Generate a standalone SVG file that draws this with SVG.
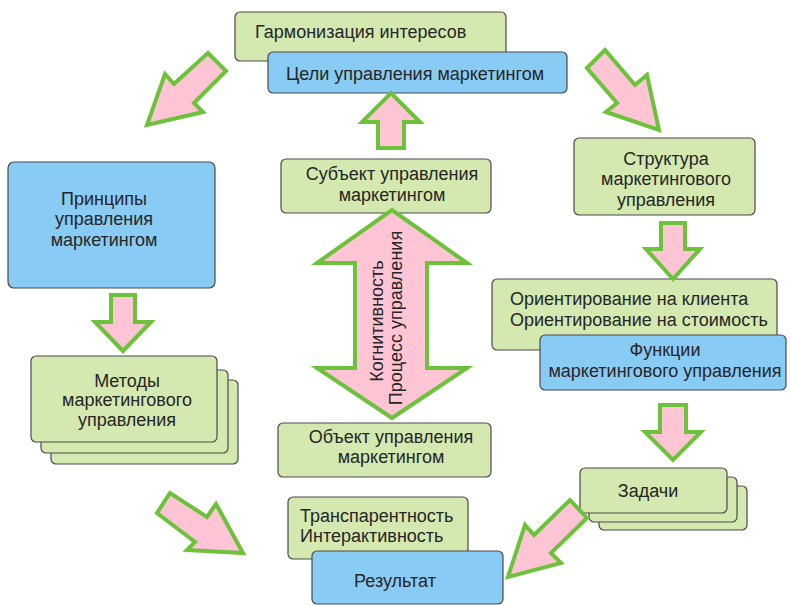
<svg xmlns="http://www.w3.org/2000/svg" width="790" height="605" viewBox="0 0 790 605">
  <style>
    .g { fill: #d3e9b0; stroke: #4a4a4a; stroke-width: 1.2; }
    .b { fill: #88cbf4; stroke: #4a4a4a; stroke-width: 1.2; }
    .arrow { fill: #ffc5d5; stroke: #6cc23a; stroke-width: 4; stroke-linejoin: miter; }
    text { font-family: "Liberation Sans", Arial, sans-serif; font-size: 18px; fill: #262626; }
    .c { text-anchor: middle; }
  </style>
  <rect width="790" height="605" fill="#ffffff"/>

  <!-- boxes -->
  <g id="harmonization">
    <rect class="g" x="235" y="12" width="271" height="49" rx="5"/>
    <text x="255" y="38">Гармонизация интересов</text>
  </g>
  <g id="goals">
    <rect class="b" x="268" y="52" width="299" height="41" rx="5"/>
    <text class="c" x="415" y="80">Цели управления маркетингом</text>
  </g>
  <g id="principles">
    <rect class="b" x="8" y="162" width="207" height="126" rx="6"/>
    <text class="c" x="104" y="205">Принципы</text>
    <text class="c" x="104" y="225">управления</text>
    <text class="c" x="104" y="246">маркетингом</text>
  </g>
  <g id="subject">
    <rect class="g" x="281" y="159" width="210" height="54" rx="5"/>
    <text class="c" x="392" y="180">Субъект управления</text>
    <text class="c" x="392" y="201">маркетингом</text>
  </g>
  <g id="structure">
    <rect class="g" x="574" y="138" width="181" height="77" rx="5"/>
    <text class="c" x="666" y="165">Структура</text>
    <text class="c" x="666" y="185">маркетингового</text>
    <text class="c" x="666" y="206">управления</text>
  </g>
  <g id="methods">
    <rect class="g" x="51" y="380" width="187" height="84" rx="5"/>
    <rect class="g" x="41" y="370" width="187" height="83" rx="5"/>
    <rect class="g" x="31" y="356" width="186" height="86" rx="5"/>
    <text class="c" x="127" y="387">Методы</text>
    <text class="c" x="127" y="406">маркетингового</text>
    <text class="c" x="127" y="426">управления</text>
  </g>
  <g id="orientation">
    <rect class="g" x="492" y="279" width="285" height="71" rx="5"/>
    <text x="510" y="305">Ориентирование на клиента</text>
    <text x="510" y="326">Ориентирование на стоимость</text>
  </g>
  <g id="functions">
    <rect class="b" x="540" y="335" width="246" height="55" rx="5"/>
    <text class="c" x="665" y="356">Функции</text>
    <text class="c" x="665" y="377">маркетингового управления</text>
  </g>
  <g id="object">
    <rect class="g" x="278" y="423" width="213" height="54" rx="5"/>
    <text class="c" x="391" y="443">Объект управления</text>
    <text class="c" x="391" y="463">маркетингом</text>
  </g>
  <g id="tasks">
    <rect class="g" x="599" y="486" width="148" height="44" rx="5"/>
    <rect class="g" x="589" y="477" width="148" height="45" rx="5"/>
    <rect class="g" x="580" y="468" width="147" height="45" rx="5"/>
    <text class="c" x="648" y="497">Задачи</text>
  </g>
  <g id="transparency">
    <rect class="g" x="288" y="497" width="180" height="62" rx="5"/>
    <text x="300" y="522">Транспарентность</text>
    <text x="300" y="542">Интерактивность</text>
  </g>
  <g id="result">
    <rect class="b" x="312" y="551" width="191" height="53" rx="5"/>
    <text class="c" x="395" y="587">Результат</text>
  </g>

  <!-- connectors -->
  <g id="connectors">
    <polygon class="arrow" points="208,53 226,71 194,103 203,112 147,125 165,74 174,84"/>
    <polygon class="arrow" points="587,68 605,50 635,85 647,75 659,130 606,112 617,103"/>
    <polygon class="arrow" points="378,148 378,122 362,122 391,93 420,122 404,122 404,148"/>
    <polygon class="arrow" points="111,295 135,295 135,322 151,322 123,351 95,322 111,322"/>
    <polygon class="arrow" points="661,223 685,223 685,249 700,249 673,279 646,249 661,249"/>
    <polygon class="arrow" points="660,405 686,405 686,432 701,432 673,460 645,432 660,432"/>
    <polygon class="arrow" points="157,513 170,493 207,517 216,504 243,553 187,550 195,542"/>
    <polygon class="arrow" points="570,500 587,518 551,553 561,563 508,577 525,525 534,535"/>
    <g id="subject-object">
      <polygon class="arrow" points="392,210 467,263 427,263 427,368 467,368 392,418 317,368 355,368 355,263 317,263"/>
      <text class="c" transform="translate(383,321) rotate(-90)">Когнитивность</text>
      <text class="c" transform="translate(402,318) rotate(-90)">Процесс управления</text>
    </g>
  </g>
</svg>
